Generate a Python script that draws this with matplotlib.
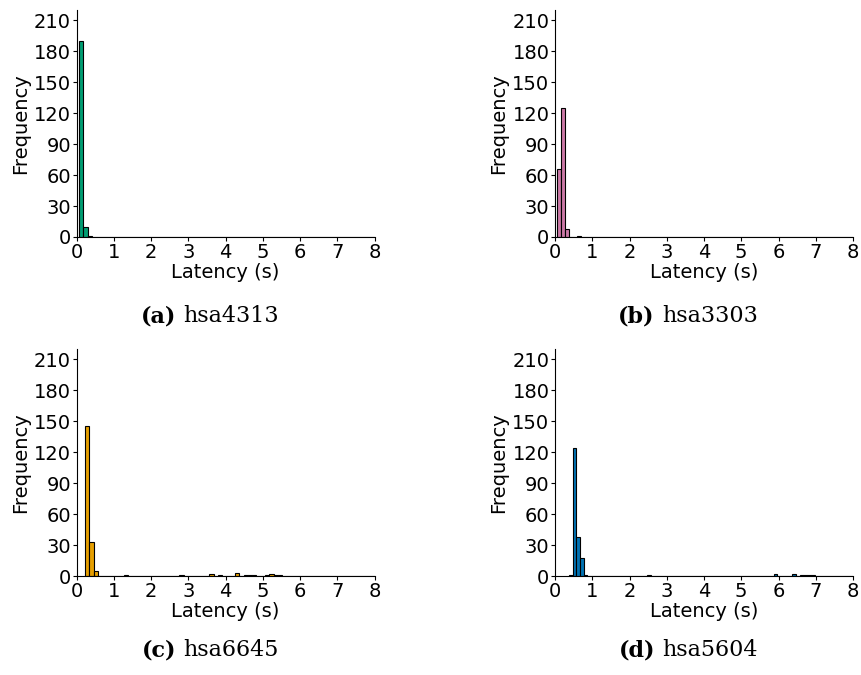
import numpy as np
import matplotlib.pyplot as plt

# per-pathway histogram: first bin edge (s), bin width (s),
# and the latencies (s) / counts of the nonzero bins
a_start, a_width = 0.07, 0.115
a_lat = [0.1, 0.2, 0.35]
a_cnt = [190, 10, 1]

b_start, b_width = 0.045, 0.11
b_lat = [0.1, 0.2, 0.3, 0.62]
b_cnt = [66, 125, 8, 1]

c_start, c_width = 0.23, 0.115
c_lat = [0.28, 0.4, 0.5, 1.3, 2.8, 3.6, 3.83, 4.3, 4.52, 4.63, 4.75, 5.1, 5.2, 5.32, 5.42]
c_cnt = [145, 33, 5, 1, 1, 2, 1, 3, 1, 1, 1, 1, 2, 1, 1]

d_start, d_width = 0.37, 0.1
d_lat = [0.42, 0.52, 0.62, 0.72, 0.82, 2.52, 5.92, 6.42, 6.62, 6.72, 6.82, 6.92]
d_cnt = [1, 124, 38, 17, 1, 1, 2, 2, 1, 1, 1, 1]

panels = [
    ('(a)', 'hsa4313', a_start, a_width, a_lat, a_cnt, '#009e73'),
    ('(b)', 'hsa3303', b_start, b_width, b_lat, b_cnt, '#cc79a7'),
    ('(c)', 'hsa6645', c_start, c_width, c_lat, c_cnt, '#e69f00'),
    ('(d)', 'hsa5604', d_start, d_width, d_lat, d_cnt, '#0072b2'),
]

W, H = 861, 675
fig = plt.figure(figsize=(W / 100, H / 100), dpi=100)
renderer = fig.canvas.get_renderer()

# axes boxes in pixels: left, bottom (measured from top)
boxes = [(76.5, 237), (555, 237), (76.5, 576), (555, 576)]
caption_pos = [(210, 316), (688, 316), (210, 650), (688, 650)]
ax_w, ax_h = 298, 227

for (tag, name, start, width, lat, cnt, color), (left, bottom), (cx, cy) in zip(panels, boxes, caption_pos):
    ax = fig.add_axes([left / W, 1 - bottom / H, ax_w / W, ax_h / H])
    n_bins = int(np.ceil((8 - start) / width))
    edges = start + np.arange(n_bins) * width
    counts = np.zeros(n_bins)
    idx = np.floor((np.array(lat) - start) / width).astype(int)
    counts[idx] = cnt
    ax.bar(edges, counts, width=width, align='edge', color=color,
           edgecolor='black', linewidth=0.8)
    ax.set_xlim(0, 8)
    ax.set_ylim(0, 220)
    ax.set_xticks(range(0, 9))
    ax.set_yticks(range(0, 211, 30))
    ax.tick_params(labelsize=14, length=3, pad=1)
    ax.spines['top'].set_visible(False)
    ax.spines['right'].set_visible(False)
    ax.set_xlabel('Latency (s)', fontsize=14, labelpad=1)
    ax.set_ylabel('Frequency', fontsize=14, labelpad=3)

    # caption: bold tag + name, centred as one group
    t1 = fig.text(0, 1 - cy / H, tag, ha='left', va='center',
                  fontsize=16, fontweight='bold', family='DejaVu Serif')
    t2 = fig.text(0, 1 - cy / H, name, ha='left', va='center',
                  fontsize=16, family='DejaVu Serif')
    w1 = t1.get_window_extent(renderer).width
    w2 = t2.get_window_extent(renderer).width
    gap = 7
    x0 = cx - (w1 + gap + w2) / 2
    t1.set_x(x0 / W)
    t2.set_x((x0 + w1 + gap) / W)

fig.savefig('out.png', dpi=100)
